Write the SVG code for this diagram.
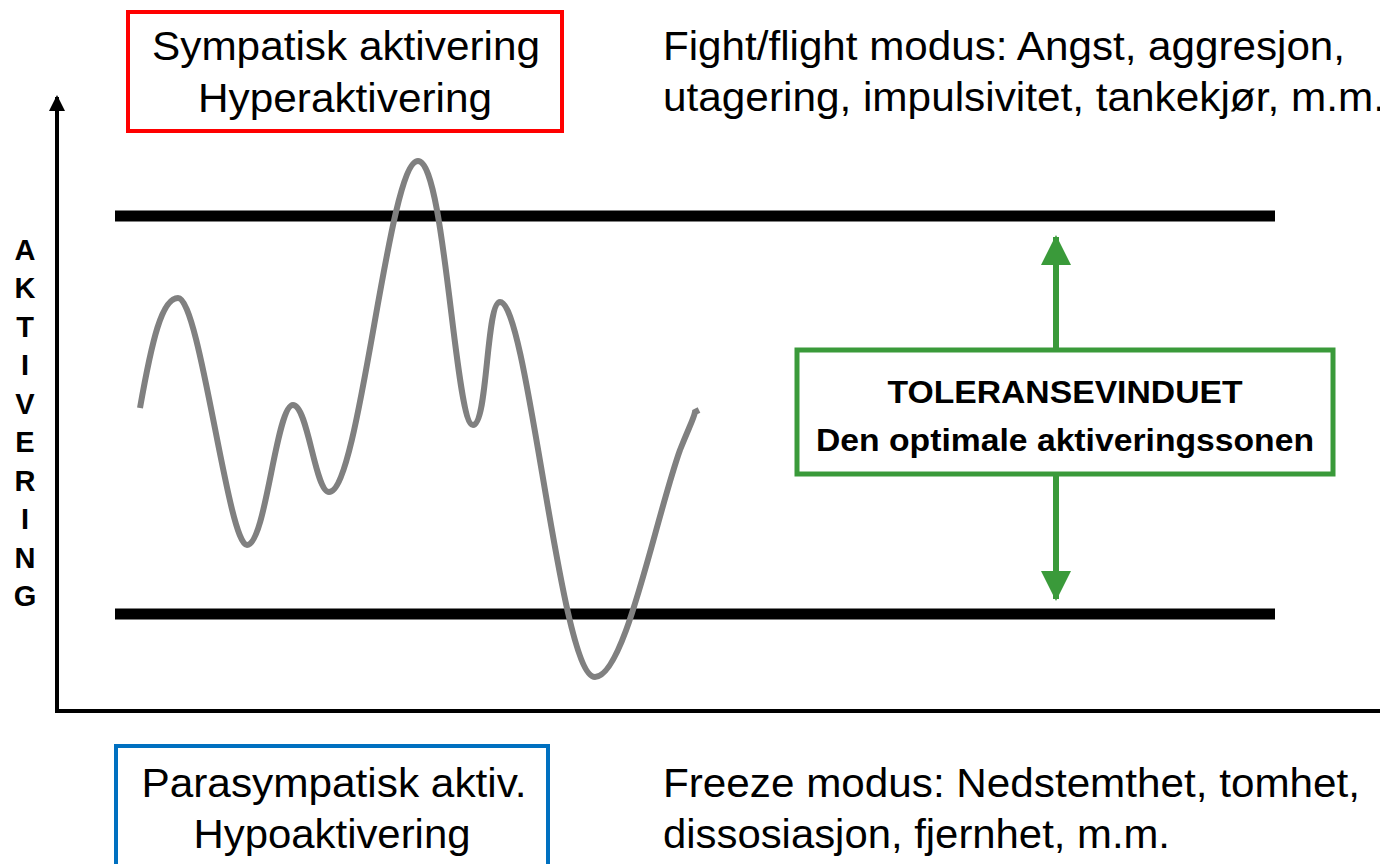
<svg xmlns="http://www.w3.org/2000/svg" width="1380" height="864" viewBox="0 0 1380 864">
<style>
.t{font-family:"Liberation Sans",Arial,sans-serif;font-size:40px;fill:#000}
.b{font-family:"Liberation Sans",Arial,sans-serif;font-size:32px;font-weight:bold;fill:#000}
.ax{font-family:"Liberation Sans",Arial,sans-serif;font-size:29px;font-weight:bold;fill:#000}
.lim{stroke:#000;stroke-width:11;fill:none}
</style>
<defs>
<marker id="ah" markerWidth="16" markerHeight="16" refX="14" refY="8" orient="auto" markerUnits="userSpaceOnUse" viewBox="0 0 16 16"><path d="M0,0 L16,8 L0,16 z" fill="#000"/></marker>
<marker id="gh" markerWidth="30" markerHeight="30" refX="28" refY="15" orient="auto" markerUnits="userSpaceOnUse" viewBox="0 0 30 30"><path d="M0,0 L30,15 L0,30 z" fill="#3a9a3a"/></marker>
</defs>
<rect width="1380" height="864" fill="#fff"/>
<g id="axes">
<path d="M57,711 V97" stroke="#000" stroke-width="4" fill="none" marker-end="url(#ah)"/>
<path d="M55,711 H1380" stroke="#000" stroke-width="4" fill="none"/>
</g>
<g id="axis-label">
<text class="ax" text-anchor="middle" x="25" y="260">A</text>
<text class="ax" text-anchor="middle" x="25" y="298">K</text>
<text class="ax" text-anchor="middle" x="25" y="337">T</text>
<text class="ax" text-anchor="middle" x="25" y="375">I</text>
<text class="ax" text-anchor="middle" x="25" y="414">V</text>
<text class="ax" text-anchor="middle" x="25" y="452">E</text>
<text class="ax" text-anchor="middle" x="25" y="491">R</text>
<text class="ax" text-anchor="middle" x="25" y="529">I</text>
<text class="ax" text-anchor="middle" x="25" y="568">N</text>
<text class="ax" text-anchor="middle" x="25" y="606">G</text>
</g>
<g id="limits">
<line class="lim" x1="115" y1="216" x2="1275" y2="216"/>
<line class="lim" x1="115" y1="614" x2="1275" y2="614"/>
</g>
<g id="curve">
<path d="M140,408 C152,340 162,298 178,298 C200,298 228,545 247,545 C266,545 276,405 293,405 C308,405 315,492 329,492 C360,492 388,161 418,161 C445,161 455,425 473,425 C488,425 486,302 500,302 C528,302 560,677 595,677 C625,677 655,520 680,450 C690,425 694,418 695,412 L699,410" fill="none" stroke="#808080" stroke-width="6"/>
</g>
<g id="hyper">
<rect x="128" y="12" width="434" height="119" fill="#fff" stroke="#ff0000" stroke-width="4"/>
<text class="t" text-anchor="middle" x="346" y="60" textLength="388" lengthAdjust="spacingAndGlyphs">Sympatisk aktivering</text>
<text class="t" text-anchor="middle" x="345" y="112" textLength="294" lengthAdjust="spacingAndGlyphs">Hyperaktivering</text>
</g>
<g id="hypo">
<rect x="116" y="746" width="432" height="130" fill="#fff" stroke="#0070c0" stroke-width="4"/>
<text class="t" text-anchor="middle" x="334" y="797" textLength="385" lengthAdjust="spacingAndGlyphs">Parasympatisk aktiv.</text>
<text class="t" text-anchor="middle" x="332" y="848" textLength="277" lengthAdjust="spacingAndGlyphs">Hypoaktivering</text>
</g>
<g id="fight-text">
<text class="t" x="663" y="60" textLength="682" lengthAdjust="spacingAndGlyphs">Fight/flight modus: Angst, aggresjon,</text>
<text class="t" x="663" y="111" textLength="722" lengthAdjust="spacingAndGlyphs">utagering, impulsivitet, tankekjør, m.m.</text>
</g>
<g id="freeze-text">
<text class="t" x="663" y="797" textLength="697" lengthAdjust="spacingAndGlyphs">Freeze modus: Nedstemthet, tomhet,</text>
<text class="t" x="663" y="848" textLength="507" lengthAdjust="spacingAndGlyphs">dissosiasjon, fjernhet, m.m.</text>
</g>
<g id="connectors">
<line x1="1056" y1="348" x2="1056" y2="237" stroke="#3a9a3a" stroke-width="6" marker-end="url(#gh)"/>
<line x1="1056" y1="475" x2="1056" y2="599" stroke="#3a9a3a" stroke-width="6" marker-end="url(#gh)"/>
</g>
<g id="window">
<rect x="797" y="350" width="536" height="124" fill="#fff" stroke="#3a9a3a" stroke-width="5"/>
<text class="b" text-anchor="middle" x="1065" y="403" textLength="355" lengthAdjust="spacingAndGlyphs">TOLERANSEVINDUET</text>
<text class="b" text-anchor="middle" x="1065" y="451" textLength="498" lengthAdjust="spacingAndGlyphs">Den optimale aktiveringssonen</text>
</g>
</svg>
